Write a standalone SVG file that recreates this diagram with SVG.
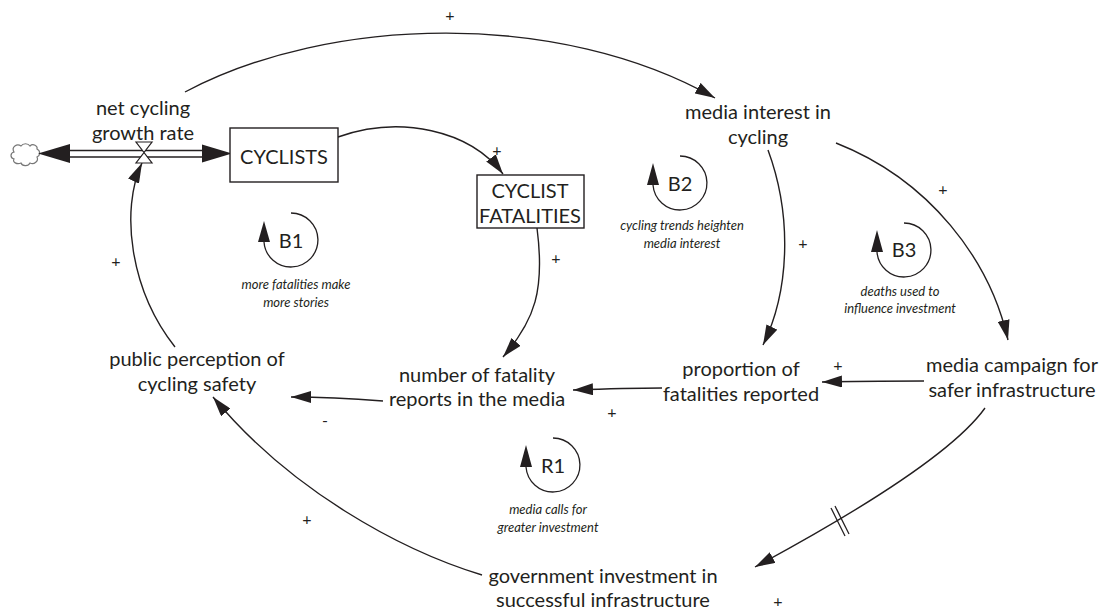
<svg xmlns="http://www.w3.org/2000/svg" width="1104" height="611" viewBox="0 0 1104 611">
<defs>
<style>
.lbl{font-family:Lato,"Open Sans","Liberation Sans",sans-serif;font-size:20px;fill:#231f20;text-anchor:middle}
.sign{font-family:Lato,"Liberation Sans",sans-serif;font-size:16px;fill:#231f20;text-anchor:middle}
.loopl{font-family:Lato,"Liberation Sans",sans-serif;font-size:20px;fill:#231f20;text-anchor:middle}
.loopt{font-family:Lato,"Liberation Sans",sans-serif;font-size:13px;font-style:italic;fill:#231f20;text-anchor:middle}
.lnk{fill:none;stroke:#231f20;stroke-width:1.4}
.box{fill:#fff;stroke:#231f20;stroke-width:1.4}
.loop{fill:none;stroke:#231f20;stroke-width:1.3}
.head{fill:#231f20}
</style>
<marker id="ah" viewBox="0 0 20 12" refX="20" refY="6" markerWidth="20" markerHeight="12" markerUnits="userSpaceOnUse" orient="auto">
<path d="M0,0 L20,6 L0,12 z" fill="#231f20"/>
</marker>
</defs>
<rect width="1104" height="611" fill="#fff"/>

<g id="connectors">
<path class="lnk" d="M185,92 C330,15 560,10 715,98" marker-end="url(#ah)"/>
<path class="lnk" d="M338,137 C400,115 470,130 503,174" marker-end="url(#ah)"/>
<path class="lnk" d="M537,228 C545,290 535,320 503,357" marker-end="url(#ah)"/>
<path class="lnk" d="M383,401 C345,398 320,397 291,397" marker-end="url(#ah)"/>
<path class="lnk" d="M662,388 C630,388 600,389 573,390" marker-end="url(#ah)"/>
<path class="lnk" d="M924,381 C890,381 860,381 822,382" marker-end="url(#ah)"/>
<path class="lnk" d="M768,150 C792,215 790,290 763,345" marker-end="url(#ah)"/>
<path class="lnk" d="M836,143 C930,180 990,260 1008,340" marker-end="url(#ah)"/>
<path class="lnk" d="M985,408 C955,450 870,505 755,567" marker-end="url(#ah)"/>
<path class="lnk" d="M482,575 C400,550 290,490 213,397" marker-end="url(#ah)"/>
<path class="lnk" d="M175,347 C130,290 120,210 142,163" marker-end="url(#ah)"/>
<g stroke="#231f20" stroke-width="1.3">
<line x1="835" y1="506" x2="849" y2="534"/>
<line x1="831" y1="508" x2="845" y2="536"/>
</g>
<text class="sign" x="450" y="21">+</text>
<text class="sign" x="497" y="156">+</text>
<text class="sign" x="556" y="264">+</text>
<text class="sign" x="803" y="249">+</text>
<text class="sign" x="943" y="195">+</text>
<text class="sign" x="116" y="267">+</text>
<text class="sign" x="325" y="426">-</text>
<text class="sign" x="612" y="418">+</text>
<text class="sign" x="838" y="371">+</text>
<text class="sign" x="307" y="525">+</text>
<text class="sign" x="778" y="607">+</text>
</g>

<g id="flow">
<path d="M14,152 c-3,-5 3,-9 7,-6 c2,-3 7,-3 9,0 c3,-3 8,0 7,3 c4,2 3,7 0,8 c2,4 -3,8 -7,6 c-2,4 -8,3 -9,0 c-4,2 -9,-1 -7,-4 c-4,-1 -4,-6 0,-7 z" fill="#fff" stroke="#777" stroke-width="1.2"/>
<line x1="60" y1="150.5" x2="210" y2="150.5" stroke="#231f20" stroke-width="1.4"/>
<line x1="60" y1="157" x2="210" y2="157" stroke="#231f20" stroke-width="1.4"/>
<polygon class="head" points="38,153.5 70,144 70,163"/>
<polygon class="head" points="232,153.5 202,144.5 202,162.5"/>
<path d="M136,142 L152,142 L144,152.5 L152,163 L136,163 L144,152.5 z" fill="#fff" stroke="#231f20" stroke-width="1.2"/>
<text class="lbl" x="143" y="115">net cycling</text>
<text class="lbl" x="143" y="140">growth rate</text>
</g>

<g id="cyclists">
<rect class="box" x="230" y="128" width="108" height="54"/>
<text class="lbl" x="284" y="164">CYCLISTS</text>
</g>

<g id="cyclist-fatalities">
<rect class="box" x="477" y="175" width="107" height="53"/>
<text class="lbl" x="530" y="198">CYCLIST</text>
<text class="lbl" x="530" y="223">FATALITIES</text>
</g>

<g id="media-interest">
<text class="lbl" x="758" y="119">media interest in</text>
<text class="lbl" x="758" y="144">cycling</text>
</g>

<g id="number-reports">
<text class="lbl" x="477" y="382">number of fatality</text>
<text class="lbl" x="477" y="406">reports in the media</text>
</g>

<g id="public-perception">
<text class="lbl" x="197" y="366">public perception of</text>
<text class="lbl" x="197" y="391">cycling safety</text>
</g>

<g id="proportion-reported">
<text class="lbl" x="741" y="376">proportion of</text>
<text class="lbl" x="741" y="401">fatalities reported</text>
</g>

<g id="media-campaign">
<text class="lbl" x="1012" y="372">media campaign for</text>
<text class="lbl" x="1012" y="397">safer infrastructure</text>
</g>

<g id="government-investment">
<text class="lbl" x="603" y="583">government investment in</text>
<text class="lbl" x="603" y="607">successful infrastructure</text>
</g>

<g id="loop-B1">
<path class="loop" d="M291,213 A27 27 0 1 1 264,242"/>
<polygon class="head" points="264,221 258,242 270,242"/>
<text class="loopl" x="291" y="248">B1</text>
<text class="loopt" x="296" y="289">more fatalities make</text>
<text class="loopt" x="296" y="307">more stories</text>
</g>

<g id="loop-B2">
<path class="loop" d="M680,156 A27 27 0 1 1 653,185"/>
<polygon class="head" points="653,163 647,185 659,185"/>
<text class="loopl" x="680" y="191">B2</text>
<text class="loopt" x="682" y="230">cycling trends heighten</text>
<text class="loopt" x="682" y="248">media interest</text>
</g>

<g id="loop-B3">
<path class="loop" d="M904,223 A27 27 0 1 1 877,252"/>
<polygon class="head" points="877,230 871,252 883,252"/>
<text class="loopl" x="904" y="257">B3</text>
<text class="loopt" x="900" y="296">deaths used to</text>
<text class="loopt" x="900" y="313">influence investment</text>
</g>

<g id="loop-R1">
<path class="loop" d="M553,438 A27 27 0 1 1 526,467"/>
<polygon class="head" points="526,445 520,467 532,467"/>
<text class="loopl" x="553" y="473">R1</text>
<text class="loopt" x="548" y="514">media calls for</text>
<text class="loopt" x="548" y="532">greater investment</text>
</g>
</svg>
